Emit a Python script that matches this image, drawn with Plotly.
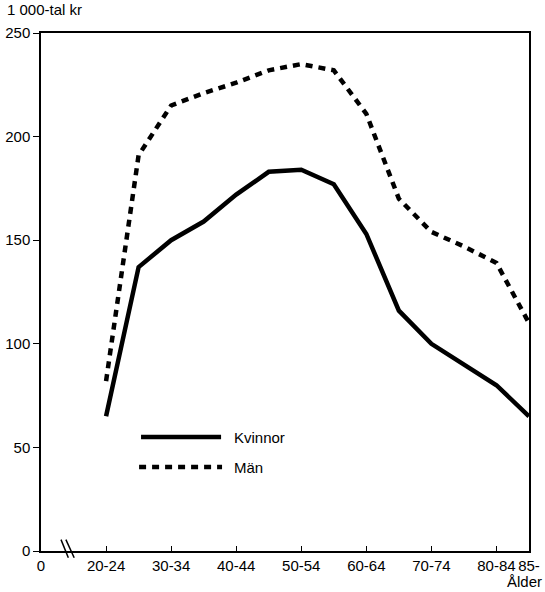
import plotly.graph_objects as go

# Data
age_groups = ["20-24", "25-29", "30-34", "35-39", "40-44", "45-49", "50-54",
              "55-59", "60-64", "65-69", "70-74", "75-79", "80-84", "85-"]
kvinnor = [65, 137, 150, 159, 172, 183, 184, 177, 153, 116, 100, 90, 80, 65]
man = [82, 191, 215, 221, 226, 232, 235, 232, 211, 170, 154, 147, 139, 110]

tick_labels = ["0", "20-24", "30-34", "40-44", "50-54", "60-64", "70-74", "80-84", "85-"]
tick_groups = [None, "20-24", "30-34", "40-44", "50-54", "60-64", "70-74", "80-84", "85-"]
y_ticks = [0, 50, 100, 150, 200, 250]

xpos = list(range(len(age_groups)))
tickvals = [-2] + [age_groups.index(g) for g in tick_groups[1:]]

FONT = "Liberation Sans, Arial, sans-serif"

fig = go.Figure()
fig.add_trace(go.Scatter(x=xpos, y=kvinnor, mode="lines", name="Kvinnor",
                         line=dict(color="black", width=4.5)))
fig.add_trace(go.Scatter(x=xpos, y=man, mode="lines", name="Män",
                         line=dict(color="black", width=4.5, dash="7px,6px")))

# legend drawn as shapes + text
fig.add_shape(type="line", xref="paper", yref="paper", x0=0.205, x1=0.369, y0=0.220, y1=0.220,
              line=dict(color="black", width=4.5))
fig.add_shape(type="line", xref="paper", yref="paper", x0=0.201, x1=0.371, y0=0.162, y1=0.162,
              line=dict(color="black", width=4.5, dash="7px,6px"))
fig.add_annotation(xref="paper", yref="paper", x=0.391, y=0.220, text="Kvinnor",
                   showarrow=False, xanchor="left", yanchor="middle",
                   font=dict(size=15, color="black", family=FONT))
fig.add_annotation(xref="paper", yref="paper", x=0.391, y=0.162, text="Män",
                   showarrow=False, xanchor="left", yanchor="middle",
                   font=dict(size=15, color="black", family=FONT))

# axis titles
fig.add_annotation(xref="paper", yref="paper", x=-0.074, y=1.045, text="1 000-tal kr",
                   showarrow=False, xanchor="left", yanchor="middle",
                   font=dict(size=15, color="black", family=FONT))
fig.add_annotation(xref="paper", yref="paper", x=1.031, y=-0.058, text="Ålder",
                   showarrow=False, xanchor="right", yanchor="middle",
                   font=dict(size=15, color="black", family=FONT))

# axis break marks
for x0, x1 in [(0.041, 0.056), (0.051, 0.068)]:
    fig.add_shape(type="line", xref="paper", yref="paper", x0=x0, x1=x1, y0=0.022, y1=-0.013,
                  line=dict(color="black", width=1.5))

fig.update_layout(
    width=545, height=592,
    margin=dict(l=41, r=16, t=33, b=41),
    paper_bgcolor="white", plot_bgcolor="white",
    showlegend=False,
    font=dict(family=FONT, size=15, color="black"),
)
fig.update_xaxes(range=[-2, 13], tickmode="array", tickvals=tickvals, ticktext=tick_labels,
                 tickangle=0, automargin=False,
                 showgrid=False, zeroline=False, showline=True, linecolor="black", linewidth=1.5,
                 mirror=True, ticks="inside", ticklen=5, tickcolor="black",
                 tickfont=dict(size=15, color="black", family=FONT))
fig.update_yaxes(range=[0, 250], tickmode="array", tickvals=y_ticks, automargin=False,
                 showgrid=False, zeroline=False, showline=True, linecolor="black", linewidth=1.5,
                 mirror=True, ticks="outside", ticklen=6, tickcolor="black",
                 tickfont=dict(size=15, color="black", family=FONT))

fig.write_html("out.html", config={"displayModeBar": False},
               post_script="document.body.style.margin='0';document.body.style.overflow='hidden';")
